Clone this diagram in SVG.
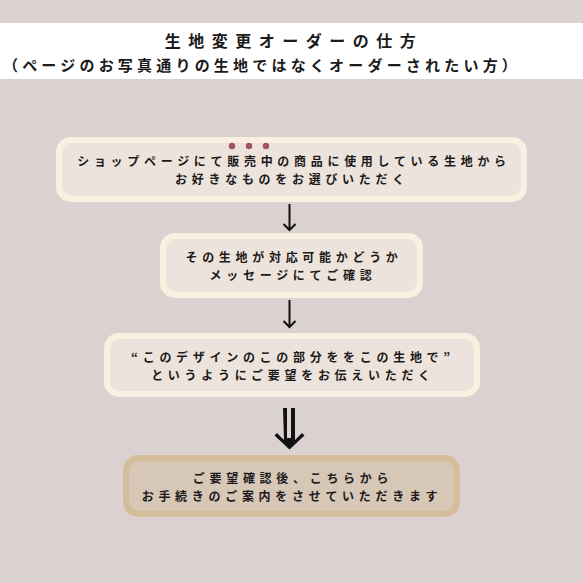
<svg xmlns="http://www.w3.org/2000/svg" width="583" height="583" viewBox="0 0 583 583">
<defs>
<style>
.t{font-family:"Noto Sans CJK JP","Noto Sans CJK SC",sans-serif;fill:#1c1a1a;font-weight:bold;text-anchor:middle}
.b{font-size:12px;letter-spacing:4.7px}
.ob{fill:#f9f0e1}
.ib{fill:#ece4dc}
.ob4{fill:#d4bd9b}
.ib4{fill:#d6c7b7}
.ln{stroke:#111;stroke-width:2;fill:none}
</style>
</defs>
<rect width="583" height="583" fill="#dbd1d0"/>
<g id="title">
<rect x="0" y="23" width="583" height="56" fill="#ffffff"/>
<text class="t" x="294" y="47" style="font-size:16px;letter-spacing:7.5px">生地変更オーダーの仕方</text>
<text class="t" x="262" y="71" style="font-size:15px;letter-spacing:4.2px">（ページのお写真通りの生地ではなくオーダーされたい方）</text>
</g>
<g id="connectors">
<line class="ln" x1="289.5" y1="204" x2="289.5" y2="230"/>
<polyline class="ln" points="283.5,224 289.5,230 295.5,224"/>
<line class="ln" x1="289.5" y1="300" x2="289.5" y2="327"/>
<polyline class="ln" points="283.5,321 289.5,327 295.5,321"/>
<path d="M283,408 h4 v30 h4 v-30 h4 v32 l7,-7 l2.5,2.5 l-15,14 l-15,-14 l2.5,-2.5 l7,7 z" fill="#111"/>
</g>
<g id="node1">
<rect class="ob" x="56" y="137" width="471" height="65" rx="15"/>
<rect class="ib" x="62" y="143" width="459" height="53" rx="10"/>
<circle cx="232" cy="146" r="3.2" fill="#a2535b"/>
<circle cx="249" cy="146" r="3.2" fill="#a2535b"/>
<circle cx="266" cy="146" r="3.2" fill="#a2535b"/>
<text class="t b" x="294" y="165.5">ショップページにて販売中の商品に使用している生地から</text>
<text class="t b" x="292" y="183.5">お好きなものをお選びいただく</text>
</g>
<g id="node2">
<rect class="ob" x="160" y="233" width="263" height="65" rx="15"/>
<rect class="ib" x="166" y="239" width="251" height="53" rx="10"/>
<text class="t b" x="294" y="261.5">その生地が対応可能かどうか</text>
<text class="t b" x="293" y="279.5">メッセージにてご確認</text>
</g>
<g id="node3">
<rect class="ob" x="104" y="333" width="376" height="64" rx="15"/>
<rect class="ib" x="110" y="339" width="364" height="52" rx="10"/>
<text class="t b" x="293" y="361.5">“このデザインのこの部分ををこの生地で”</text>
<text class="t b" x="293" y="379.5">というようにご要望をお伝えいただく</text>
</g>
<g id="node4">
<rect class="ob4" x="123" y="455" width="337" height="62" rx="15"/>
<rect class="ib4" x="129" y="461" width="325" height="50" rx="10"/>
<text class="t b" x="293" y="483">ご要望確認後、こちらから</text>
<text class="t b" x="292" y="501">お手続きのご案内をさせていただきます</text>
</g>
</svg>
